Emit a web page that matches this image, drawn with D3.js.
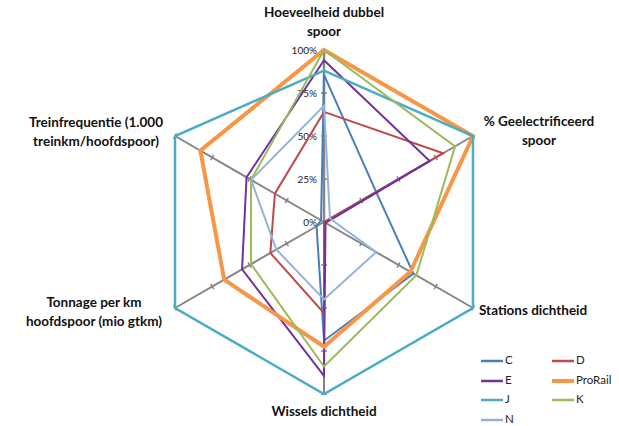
<!DOCTYPE html>
<html><head><meta charset="utf-8">
<script src="https://cdn.jsdelivr.net/npm/d3@7"></script>
<style>body{margin:0;background:#fff}svg{display:block}</style>
</head><body><svg id="c" width="619" height="426"></svg>
<script>
const axes = [
  ["Hoeveelheid dubbel","spoor"],
  ["% Geelectrificeerd","spoor"],
  ["Stations dichtheid"],
  ["Wissels dichtheid"],
  ["Tonnage per km","hoofdspoor (mio gtkm)"],
  ["Treinfrequentie (1.000","treinkm/hoofdspoor)"]
];
const tickValues = [0, 0.25, 0.5, 0.75, 1];
const tickLabels = ["0%","25%","50%","75%","100%"];
const seriesNames = ["C","D","E","ProRail","J","K","N"];
const valC = [0.855, 0.35, 0.60, 0.69, 0.05, 0.02];
const valD = [0.64, 0.80, 0.0, 0.53, 0.36, 0.33];
const valE = [0.94, 0.71, 0.01, 0.895, 0.55, 0.52];
const valProRail = [1.0, 1.0, 0.58, 0.725, 0.67, 0.83];
const valJ = [0.88, 1.0, 1.0, 1.0, 1.0, 1.0];
const valK = [1.0, 0.88, 0.62, 0.84, 0.49, 0.49];
const valN = [0.675, 0.04, 0.35, 0.45, 0.32, 0.49];
const seriesValues = [valC, valD, valE, valProRail, valJ, valK, valN];
const colors = ["#4a7ebb","#be4b48","#7030a0","#f79646","#4bacc6","#9bbb59","#95b3d7"];
const widths = [2, 2, 2, 4, 2.5, 2, 2];

const svg = d3.select("#c");
const cx = 324, cy = 222, R = 172;
const r = d3.scaleLinear().domain([0,1]).range([0,R]);
const ang = d3.scaleLinear().domain([0, axes.length]).range([0, 2*Math.PI]);
const g = svg.append("g").attr("transform", `translate(${cx},${cy})`);
const font = "Lato, 'Open Sans', sans-serif";

// axes
axes.forEach((a,i)=>{
  const t = ang(i);
  const sx = Math.sin(t), sy = -Math.cos(t);
  g.append("line").attr("x1",0).attr("y1",0).attr("x2",sx*R).attr("y2",sy*R)
    .attr("stroke","#868686").attr("stroke-width", i===0?2.5:2);
  tickValues.slice(1).forEach(v=>{
    const px = sx*r(v), py = sy*r(v);
    const nx = -sy, ny = sx;
    g.append("line").attr("x1",px-nx*3).attr("y1",py-ny*3).attr("x2",px+nx*3).attr("y2",py+ny*3)
      .attr("stroke","#868686").attr("stroke-width",1.5);
  });
});
// tick labels
tickValues.forEach((v,i)=>{
  g.append("text").attr("x",-7).attr("y",-r(v)).attr("dy","0.35em")
    .attr("text-anchor","end").attr("font-family",font).attr("font-size",10).attr("fill","#222")
    .text(tickLabels[i]);
});

// series
const line = d3.lineRadial().angle((d,i)=>ang(i)).radius(d=>r(d)).curve(d3.curveLinearClosed);
seriesValues.forEach((vals,k)=>{
  g.append("path").attr("d", line(vals)).attr("fill","none")
    .attr("stroke",colors[k]).attr("stroke-width",widths[k]).attr("stroke-linejoin","miter");
});

// category labels
const labelPos = [[324,14],[539,123],[538,312],[324,413],[94,304],[96,124]];
axes.forEach((a,i)=>{
  const t = svg.append("text").attr("x",labelPos[i][0]).attr("y",labelPos[i][1])
    .attr("text-anchor", i===2 ? "start":"middle").attr("font-family",font)
    .attr("font-weight","bold").attr("font-size",13.5).attr("fill","#111")
    .attr("dominant-baseline","middle");
  a.forEach((s,j)=>t.append("tspan").attr("x", i===2?479:labelPos[i][0]).attr("dy", j===0?0:19).text(s));
});

// legend
const legPos = [[481,361],[552,361],[481,381],[552,381],[481,400],[552,400],[481,420]];
seriesNames.forEach((n,k)=>{
  const [lx,ly] = legPos[k];
  svg.append("line").attr("x1",lx).attr("x2",lx+22).attr("y1",ly).attr("y2",ly)
    .attr("stroke",colors[k]).attr("stroke-width",widths[k]===4?4:2.5);
  svg.append("text").attr("x",lx+24).attr("y",ly).attr("dominant-baseline","middle")
    .attr("font-family",font).attr("font-size",11.5).attr("fill","#222").text(n);
});
</script></body></html>
